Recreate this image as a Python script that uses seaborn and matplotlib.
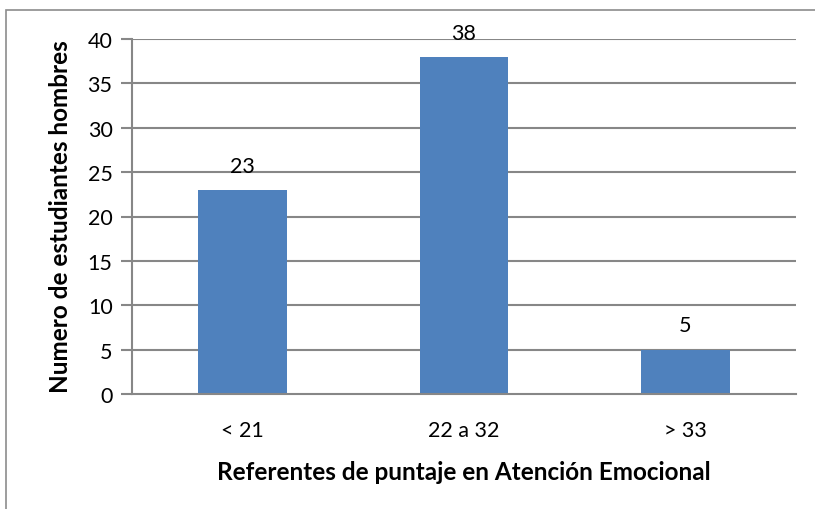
import matplotlib
matplotlib.use("Agg")
import matplotlib.pyplot as plt
import seaborn as sns
import pandas as pd
from matplotlib.patches import Rectangle

# data
categorias = ['< 21', '22 a 32', '> 33']
estudiantes = [23, 38, 5]
yticks = [0, 5, 10, 15, 20, 25, 30, 35, 40]

df = pd.DataFrame({'rango': categorias, 'n': estudiantes})

sns.set_theme(style='white')
plt.rcParams['font.family'] = ['Lato', 'DejaVu Sans']
plt.rcParams['text.color'] = 'black'

fig = plt.figure(figsize=(8.15, 5.1), dpi=100)
ax = fig.add_axes([132/815, 1 - 395/510, (796 - 132)/815, (395 - 40)/510])

grid_col = '#878787'
for t in yticks[1:]:
    ax.axhline(t, color=grid_col, lw=1.5, zorder=0)

sns.barplot(data=df, x='rango', y='n', color='#4F81BD', width=0.4,
            saturation=1, linewidth=0, ax=ax, zorder=2)

for i, v in enumerate(estudiantes):
    ax.text(i, v + 1.6, str(v), ha='center', va='bottom', fontsize=15.5, color='black')

ax.set_ylim(0, 40)
ax.set_xlim(-0.5, 2.5)
ax.set_yticks(yticks)
ax.tick_params(axis='y', labelsize=15.5, length=8, width=1.5, color=grid_col,
               left=True, pad=6, labelcolor='black')
ax.tick_params(axis='x', labelsize=15.5, length=0, pad=19, labelcolor='black')
ax.set_xlabel('')
ax.set_ylabel('')

for s in ['top', 'right']:
    ax.spines[s].set_visible(False)
ax.spines['left'].set_color(grid_col)
ax.spines['left'].set_linewidth(1.5)
ax.spines['bottom'].set_color(grid_col)
ax.spines['bottom'].set_linewidth(1.5)

fig.text(464/815, 1 - 472/510, 'Referentes de puntaje en Atención Emocional',
         ha='center', va='center', fontsize=17.5, fontweight='bold', color='black')
fig.text(60/815, 1 - 217/510, 'Numero de estudiantes hombres', rotation=90,
         ha='center', va='center', fontsize=17.5, fontweight='bold', color='black')

# outer chart frame
fig.patches.append(Rectangle((6/815, -0.1), 1.5, (510 - 11)/510 + 0.1,
                             transform=fig.transFigure, fill=False,
                             edgecolor='#8c8c8c', lw=1.2))

fig.savefig('out.png', dpi=100)
